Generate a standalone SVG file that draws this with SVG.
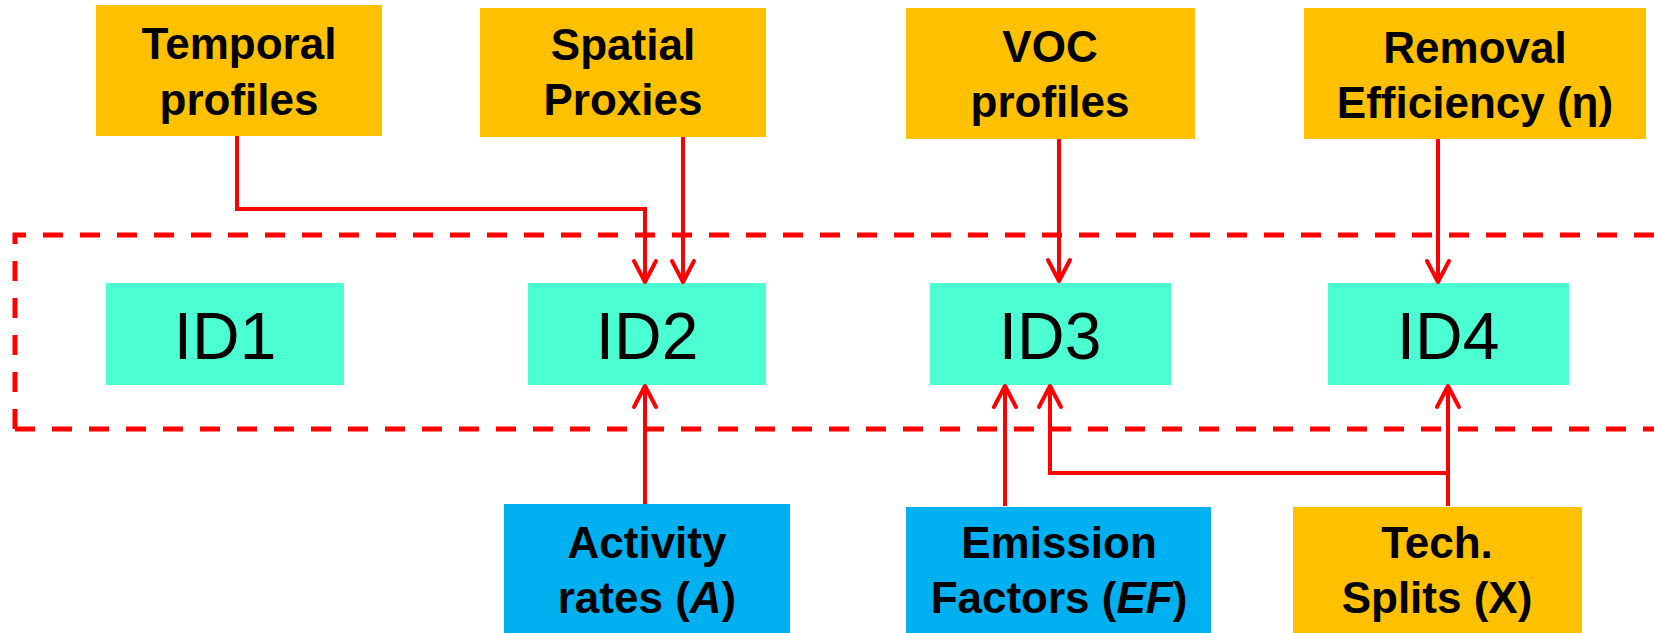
<svg xmlns="http://www.w3.org/2000/svg" width="1654" height="633" viewBox="0 0 1654 633">
<style>
.box-o{fill:#FFC000}
.box-b{fill:#00B0F0}
.box-t{fill:#4BFFD2}
.lbl{font-family:"Liberation Sans",Arial,sans-serif;font-weight:bold;font-size:44px;fill:#000;text-anchor:middle}
.id{font-family:"Liberation Sans",Arial,sans-serif;font-size:66px;fill:#000;text-anchor:middle}
.con{fill:none;stroke:#FF0000;stroke-width:4;marker-end:url(#arr)}
.frame{fill:none;stroke:#FF0000;stroke-width:5;stroke-dasharray:20 17}
</style>
<defs>
<marker id="arr" viewBox="-26 -15 30 30" refX="0" refY="0" markerWidth="30" markerHeight="30" orient="auto" markerUnits="userSpaceOnUse">
<path d="M-21,-11 L0,0 L-21,11" fill="none" stroke="#FF0000" stroke-width="4" stroke-linecap="round" stroke-linejoin="round"/>
</marker>
</defs>
<path class="frame" d="M15,429 V235 H1660 M15,429 H1660"/>
<g id="temporal"><rect class="box-o" x="96" y="5" width="286" height="131"/><text class="lbl" x="239" y="59">Temporal</text><text class="lbl" x="239" y="115">profiles</text></g>
<g id="spatial"><rect class="box-o" x="480" y="8" width="286" height="129"/><text class="lbl" x="623" y="60">Spatial</text><text class="lbl" x="623" y="115">Proxies</text></g>
<g id="voc"><rect class="box-o" x="906" y="8" width="289" height="131"/><text class="lbl" x="1050" y="62">VOC</text><text class="lbl" x="1050" y="117">profiles</text></g>
<g id="removal"><rect class="box-o" x="1304" y="8" width="342" height="131"/><text class="lbl" x="1475" y="63">Removal</text><text class="lbl" x="1475" y="118">Efficiency (η)</text></g>
<g id="id1"><rect class="box-t" x="106" y="283" width="238" height="102"/><text class="id" x="225" y="359">ID1</text></g>
<g id="id2"><rect class="box-t" x="528" y="283" width="238" height="102"/><text class="id" x="647" y="359">ID2</text></g>
<g id="id3"><rect class="box-t" x="930" y="283" width="241" height="102"/><text class="id" x="1050" y="359">ID3</text></g>
<g id="id4"><rect class="box-t" x="1328" y="283" width="241" height="102"/><text class="id" x="1448" y="359">ID4</text></g>
<g id="activity"><rect class="box-b" x="504" y="504" width="286" height="135"/><text class="lbl" x="647" y="558">Activity</text><text class="lbl" x="647" y="613">rates (<tspan font-style="italic">A</tspan>)</text></g>
<g id="emission"><rect class="box-b" x="906" y="507" width="305" height="132"/><text class="lbl" x="1059" y="558">Emission</text><text class="lbl" x="1059" y="613">Factors (<tspan font-style="italic">EF</tspan>)</text></g>
<g id="tech"><rect class="box-o" x="1293" y="507" width="289" height="132"/><text class="lbl" x="1437" y="558">Tech.</text><text class="lbl" x="1437" y="613">Splits (X)</text></g>
<g id="connectors">
<path class="con" d="M237,136 V209 H645 V282"/>
<path class="con" d="M683,137 V282"/>
<path class="con" d="M1059,139 V281"/>
<path class="con" d="M1438,139 V282"/>
<path class="con" d="M645,504 V386"/>
<path class="con" d="M1005,506 V386"/>
<path class="con" d="M1448,506 V386"/>
<path class="con" d="M1448,473 H1050 V386"/>
</g>
</svg>
